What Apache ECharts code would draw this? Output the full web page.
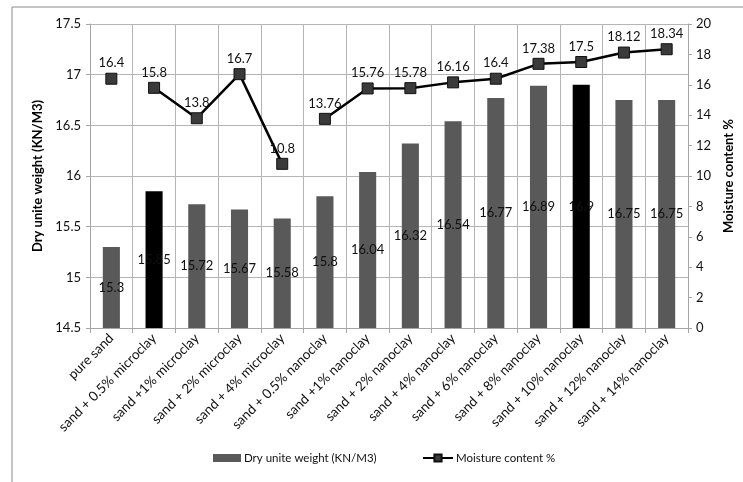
<!DOCTYPE html>
<html>
<head>
<meta charset="utf-8">
<script src="https://cdn.jsdelivr.net/npm/echarts@6/dist/echarts.min.js"></script>
<style>
html,body{margin:0;padding:0;background:#fff;}
#c{width:743px;height:482px;}
</style>
</head>
<body>
<div id="c"></div>
<script>
var categories = ["pure sand","sand + 0.5% microclay","sand +1% microclay","sand + 2% microclay","sand + 4% microclay","sand + 0.5% nanoclay","sand +1% nanoclay","sand + 2% nanoclay","sand + 4% nanoclay","sand + 6% nanoclay","sand + 8% nanoclay","sand + 10% nanoclay","sand + 12% nanoclay","sand + 14% nanoclay"];
var dryWeight = [15.3,15.85,15.72,15.67,15.58,15.8,16.04,16.32,16.54,16.77,16.89,16.9,16.75,16.75];
var moisture = [16.4,15.8,13.8,16.7,10.8,13.76,15.76,15.78,16.16,16.4,17.38,17.5,18.12,18.34];
var highlighted = [1,11];
var lineGroups = [[0,0],[1,4],[5,13]];
var leftTicks = {min:14.5,max:17.5,interval:0.5};
var rightTicks = {min:0,max:20,interval:2};

var FONT = 'Lato';
var barData = dryWeight.map(function(v,i){
  return highlighted.indexOf(i)>=0 ? {value:v,itemStyle:{color:'#000'}} : v;
});
var lineSeries = lineGroups.map(function(g){
  var d = moisture.map(function(v,i){ return (i>=g[0] && i<=g[1]) ? v : null; });
  return {
    name:'Moisture content %', type:'line', yAxisIndex:1, data:d,
    symbol:'rect', symbolSize:11, connectNulls:false,
    lineStyle:{color:'#000',width:2.5},
    itemStyle:{color:'#3a3a3a',borderColor:'#111',borderWidth:1},
    label:{show:true,position:'top',distance:3,color:'#111',fontFamily:FONT,fontSize:13},
    z:5
  };
});
var legendText = {fontFamily:FONT,fontSize:11.5,color:'#111',padding:[0,0,0,-2]};
var chart = echarts.init(document.getElementById('c'));
chart.setOption({
  animation:false,
  backgroundColor:'#fff',
  graphic:[{type:'rect',shape:{x:12,y:7,width:800,height:600},style:{fill:'none',stroke:'#8a8a8a',lineWidth:1},silent:true}],
  grid:{left:90,right:53,top:24,bottom:154},
  legend:[{
    bottom:13,left:208,
    data:[{name:'Dry unite weight (KN/M3)',icon:'rect',itemStyle:{color:'#595959'}}],
    itemWidth:28,itemHeight:8,textStyle:legendText
  },{
    bottom:13,left:417,
    data:[{name:'Moisture content %'}],
    itemWidth:30,itemHeight:9,textStyle:legendText
  }],
  xAxis:{
    type:'category',data:categories,boundaryGap:true,
    axisLine:{lineStyle:{color:'#a6a6a6'}},
    axisTick:{show:true,length:5,lineStyle:{color:'#a6a6a6'}},
    splitLine:{show:true,lineStyle:{color:'#b5b5b5'}},
    axisLabel:{rotate:45,interval:0,margin:8,color:'#111',fontFamily:FONT,fontSize:13.5}
  },
  yAxis:[{
    type:'value',min:leftTicks.min,max:leftTicks.max,interval:leftTicks.interval,
    name:'Dry unite weight (KN/M3)',nameLocation:'middle',nameGap:40,nameRotate:90,
    nameTextStyle:{fontFamily:FONT,fontSize:13,fontWeight:'bold',color:'#000'},
    axisLine:{show:true,lineStyle:{color:'#a6a6a6'}},
    axisTick:{show:true,length:4,lineStyle:{color:'#a6a6a6'}},
    splitLine:{show:true,lineStyle:{color:'#b5b5b5'}},
    axisLabel:{margin:9,color:'#111',fontFamily:FONT,fontSize:13}
  },{
    type:'value',min:rightTicks.min,max:rightTicks.max,interval:rightTicks.interval,
    name:'Moisture content %',nameLocation:'middle',nameGap:31,nameRotate:90,
    nameTextStyle:{fontFamily:FONT,fontSize:13,fontWeight:'bold',color:'#000'},
    axisLine:{show:true,lineStyle:{color:'#a6a6a6'}},
    axisTick:{show:true,length:4,lineStyle:{color:'#a6a6a6'}},
    splitLine:{show:false},
    axisLabel:{margin:8,color:'#111',fontFamily:FONT,fontSize:13}
  }],
  series:[{
    name:'Dry unite weight (KN/M3)',type:'bar',data:barData,barWidth:'40%',
    itemStyle:{color:'#595959'},
    label:{show:true,position:'inside',color:'#111',fontFamily:FONT,fontSize:13},
    z:2
  }].concat(lineSeries)
});
</script>
</body>
</html>
